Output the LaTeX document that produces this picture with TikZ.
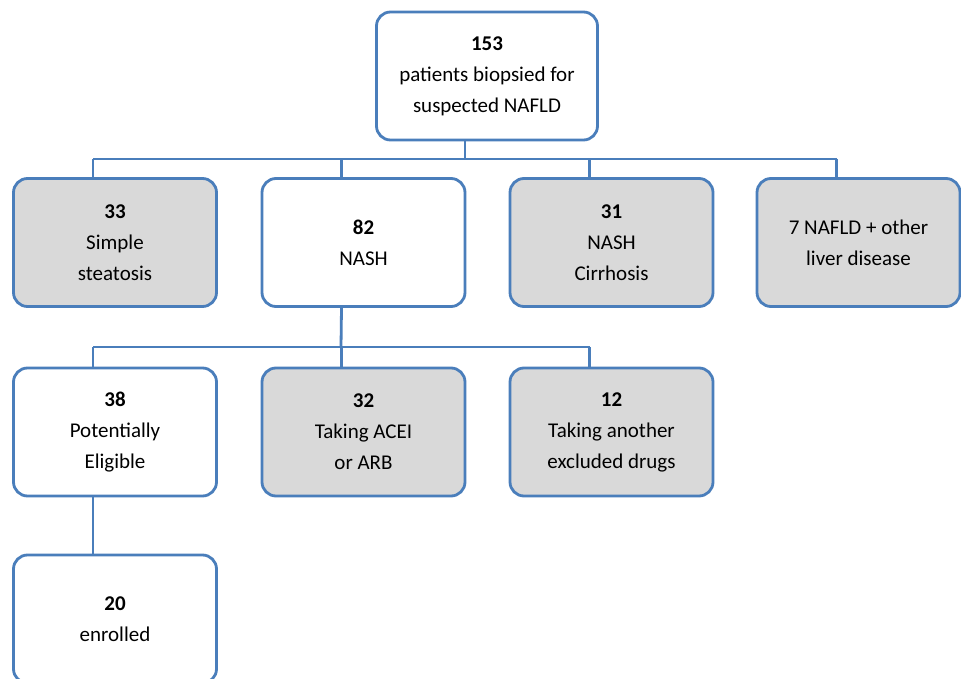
\documentclass[tikz,border=0pt]{standalone}
\usepackage{fontspec}
\setmainfont{Carlito}
\definecolor{lineblue}{RGB}{74,126,187}
\definecolor{boxgray}{RGB}{217,217,217}
\tikzset{
  box/.style={draw=lineblue, line width=2.8pt, rounded corners=14pt, fill=white,
    minimum width=203pt, minimum height=128pt, align=center, inner sep=2pt,
    font=\fontsize{21}{31}\selectfont, text=black},
  graybox/.style={box, fill=boxgray},
  conn/.style={draw=lineblue, line width=2.8pt}
}
\begin{document}
\begin{tikzpicture}[x=1pt,y=-1pt]
\clip (0,0) rectangle (961,679);
\fill[white] (0,0) rectangle (961,679);
% nodes
\node[box, minimum width=221pt] (top) at (487,76) {\textbf{153}\\patients biopsied for\\suspected NAFLD};
\node[graybox] (steat) at (115,242.5) {\textbf{33}\\Simple\\steatosis};
\node[box] (nash) at (363.5,242.5) {\textbf{82}\\NASH};
\node[graybox] (cirr) at (611.5,242.5) {\textbf{31}\\NASH\\Cirrhosis};
\node[graybox] (other) at (858.5,242.5) {7 NAFLD + other\\liver disease};
\node[box] (elig) at (115,432) {\textbf{38}\\Potentially\\Eligible};
\node[graybox] (acei) at (363.5,432) {\textbf{32}\\Taking ACEI\\or ARB};
\node[graybox] (drugs) at (611.5,432) {\textbf{12}\\Taking another\\excluded drugs};
\node[box] (enr) at (115,619) {\textbf{20}\\enrolled};
% bus coordinates
\coordinate (bus1) at (465,159);
\coordinate (bus2) at (341,347);
% top to first row
\draw[conn] (top.south -| bus1) -- (bus1);
\draw[conn] ([xshift=-22pt]steat.north |- bus1) -- ([xshift=-22pt]other.north |- bus1);
\draw[conn] ([xshift=-22pt]steat.north |- bus1) -- ([xshift=-22pt]steat.north);
\draw[conn] ([xshift=-22pt]nash.north |- bus1) -- ([xshift=-22pt]nash.north);
\draw[conn] ([xshift=-22pt]cirr.north |- bus1) -- ([xshift=-22pt]cirr.north);
\draw[conn] ([xshift=-22pt]other.north |- bus1) -- ([xshift=-22pt]other.north);
% NASH to second row
\draw[conn] ([xshift=-22pt]nash.south) -- (bus2);
\draw[conn] ([xshift=-22pt]elig.north |- bus2) -- ([xshift=-22pt]drugs.north |- bus2);
\draw[conn] ([xshift=-22pt]elig.north |- bus2) -- ([xshift=-22pt]elig.north);
\draw[conn] ([xshift=-22pt]acei.north |- bus2) -- ([xshift=-22pt]acei.north);
\draw[conn] ([xshift=-22pt]drugs.north |- bus2) -- ([xshift=-22pt]drugs.north);
% eligible to enrolled
\draw[conn] ([xshift=-22pt]elig.south) -- ([xshift=-22pt]enr.north);
\end{tikzpicture}
\end{document}
